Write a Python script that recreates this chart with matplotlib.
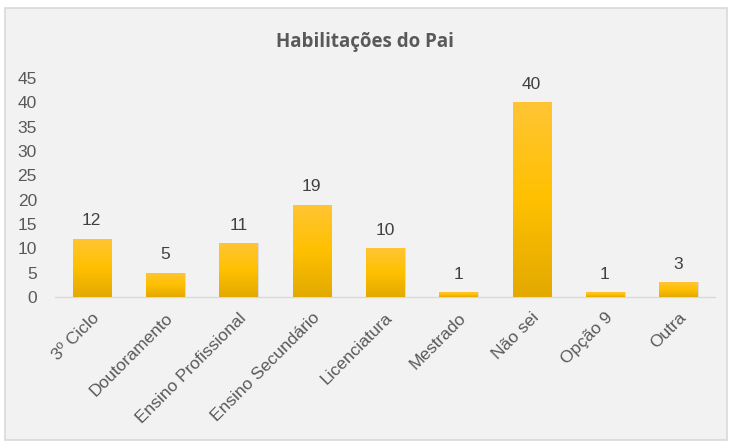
import numpy as np
import matplotlib
matplotlib.use("Agg")
import matplotlib.pyplot as plt
from matplotlib.patches import Rectangle
from matplotlib.colors import LinearSegmentedColormap

# dados
categorias = ["3º Ciclo", "Doutoramento", "Ensino Profissional", "Ensino Secundário",
              "Licenciatura", "Mestrado", "Não sei", "Opção 9", "Outra"]
valores = [12, 5, 11, 19, 10, 1, 40, 1, 3]
yticks = [0, 5, 10, 15, 20, 25, 30, 35, 40, 45]
titulo = "Habilitações do Pai"

fundo = "#f2f2f2"
texto = "#595959"

fig = plt.figure(figsize=(7.32, 4.46), dpi=100)
fig.patch.set_facecolor("white")
# moldura do gráfico
moldura = Rectangle((5 / 732, 6 / 446), 722 / 732, 432 / 446,
                    transform=fig.transFigure, facecolor=fundo,
                    edgecolor="#d9d9d9", linewidth=1.2, zorder=-5)
fig.add_artist(moldura)

ax = fig.add_axes([55 / 732, 149 / 446, 660 / 732, 219 / 446])
ax.set_zorder(1)
ax.set_facecolor("none")

x = np.arange(len(categorias))
barras = ax.bar(x, valores, width=0.52, color="#ffc000", zorder=2)

# gradiente amarelo em cada barra
cmap = LinearSegmentedColormap.from_list("amarelo", ["#e2a900", "#ffc000", "#ffc534"])
grad = np.linspace(0, 1, 256).reshape(-1, 1)
for b in barras:
    bx, by = b.get_x(), b.get_y()
    bw, bh = b.get_width(), b.get_height()
    # sombra leve
    ax.add_patch(Rectangle((bx + 0.02, by), bw, bh, facecolor="#c8c8c8",
                           edgecolor="none", alpha=0.5, zorder=1))
    im = ax.imshow(grad, extent=(bx, bx + bw, by, by + bh), origin="lower",
                   cmap=cmap, aspect="auto", zorder=3)
    im.set_clip_path(b)
    ax.text(bx + bw / 2, bh + 2.1, str(int(bh)), ha="center", va="bottom",
            fontsize=12.5, color="#404040", family="Liberation Sans", zorder=4)

ax.set_xlim(-0.5, len(categorias) - 0.5)
ax.set_ylim(0, 45)
ax.set_yticks(yticks)
ax.set_yticklabels([str(v) for v in yticks], family="Liberation Sans",
                   fontsize=12.5, color=texto)
ax.set_xticks(x)
ax.set_xticklabels(categorias, rotation=45, ha="right", va="top",
                   rotation_mode="anchor",
                   family="Liberation Sans", fontsize=12.5, color=texto)
ax.tick_params(axis="both", length=0)
ax.tick_params(axis="y", pad=13)
ax.tick_params(axis="x", pad=9.5)

for s in ["top", "right", "left"]:
    ax.spines[s].set_visible(False)
ax.spines["bottom"].set_color("#d9d9d9")
ax.spines["bottom"].set_linewidth(1)

fig.text(365 / 732, 1 - 42 / 446, titulo, ha="center", va="center",
         fontsize=13.5, fontweight="bold", color=texto, family="Open Sans")

fig.savefig("out.png", dpi=100, facecolor=fig.get_facecolor())
